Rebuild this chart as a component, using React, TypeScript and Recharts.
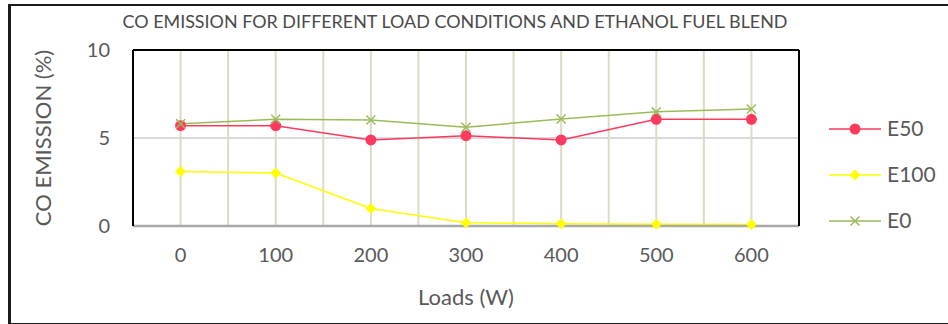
import React from 'react';
import {
  LineChart,
  Line,
  XAxis,
  YAxis,
  CartesianGrid,
} from 'recharts';

// Load steps (W) and CO emission (%) per fuel blend
const loads = ['0', '100', '200', '300', '400', '500', '600'];
const e50 = [5.7, 5.7, 4.89, 5.13, 4.89, 6.06, 6.06];
const e100 = [3.09, 3.01, 1.0, 0.19, 0.13, 0.1, 0.09];
const e0 = [5.81, 6.06, 6.02, 5.61, 6.08, 6.49, 6.65];
const yTicks = [0, 5, 10];

const data = loads.map((load, i) => ({
  load,
  E50: e50[i],
  E100: e100[i],
  E0: e0[i],
}));

const FONT = 'Lato, "Open Sans", sans-serif';
const TEXT = '#595959';
const RED = '#FF3A5E';
const YELLOW = '#FFFF00';
const GREEN = '#9BBB59';

const CircleDot = (props: any) => {
  const { cx, cy, index } = props;
  if (cx == null || cy == null) return <g key={`c${index}`} />;
  return <circle key={`c${index}`} cx={cx} cy={cy} r={5.5} fill={RED} />;
};

const DiamondDot = (props: any) => {
  const { cx, cy, index } = props;
  if (cx == null || cy == null) return <g key={`d${index}`} />;
  const s = 5.5;
  return (
    <path
      key={`d${index}`}
      d={`M${cx},${cy - s} L${cx + s},${cy} L${cx},${cy + s} L${cx - s},${cy} Z`}
      fill={YELLOW}
    />
  );
};

const CrossDot = (props: any) => {
  const { cx, cy, index } = props;
  if (cx == null || cy == null) return <g key={`x${index}`} />;
  const s = 4.5;
  return (
    <path
      key={`x${index}`}
      d={`M${cx - s},${cy - s} L${cx + s},${cy + s} M${cx - s},${cy + s} L${cx + s},${cy - s}`}
      stroke={GREEN}
      strokeWidth={1.5}
      fill="none"
    />
  );
};

// Grid lines at every category centre and every category boundary
const halfStepLines = ({ offset }: any) => {
  const n = loads.length * 2;
  const out: number[] = [];
  for (let i = 1; i < n; i++) out.push(offset.left + (i * offset.width) / n);
  return out;
};

const legendItems = [
  { name: 'E50', color: RED, Marker: CircleDot },
  { name: 'E100', color: YELLOW, Marker: DiamondDot },
  { name: 'E0', color: GREEN, Marker: CrossDot },
];

const Legend = () => (
  <svg
    width={120}
    height={150}
    style={{ position: 'absolute', left: 826, top: 105 }}
  >
    {legendItems.map((it, i) => {
      const y = 24 + i * 46;
      return (
        <g key={it.name}>
          <line x1={3} x2={55} y1={y} y2={y} stroke={it.color} strokeWidth={1.5} />
          <it.Marker cx={29} cy={y} index={i} />
          <text
            x={61}
            y={y}
            dy="0.35em"
            fontSize={21}
            fontFamily={FONT}
            fill={TEXT}
          >
            {it.name}
          </text>
        </g>
      );
    })}
  </svg>
);

export default function App() {
  return (
    <div style={{ position: 'absolute', left: 0, top: 0, width: 948, height: 324, background: '#fff', overflow: 'hidden' }}>
      <div
        style={{
          position: 'absolute',
          left: 8,
          top: 4,
          width: 980,
          height: 320,
          boxSizing: 'border-box',
          borderLeft: '3px solid #1b1b1b',
          borderTop: '2px solid #1b1b1b',
          borderBottom: '1.5px solid #1b1b1b',
        }}
      />
      <svg width={948} height={40} style={{ position: 'absolute', left: 0, top: 0 }}>
        <text
          x={455}
          y={22}
          dy="0.35em"
          textAnchor="middle"
          fontSize={17}
          fontFamily={FONT}
          fill="#4a4a4a"
          textLength={665}
          lengthAdjust="spacingAndGlyphs"
        >
          CO EMISSION FOR DIFFERENT LOAD CONDITIONS AND ETHANOL FUEL BLEND
        </text>
      </svg>
      <div style={{ position: 'absolute', left: 0, top: 0 }}>
        <LineChart
          width={948}
          height={324}
          data={data}
          margin={{ top: 49, right: 148, bottom: 39, left: 0 }}
        >
          <CartesianGrid
            horizontal={false}
            vertical
            stroke="#DDD9C3"
            strokeWidth={2}
            verticalCoordinatesGenerator={halfStepLines}
          />
          <CartesianGrid
            vertical={false}
            horizontal
            stroke="#D9D9D9"
            strokeWidth={2}
          />
          {/* top edge of the plot frame */}
          <XAxis
            xAxisId="frameTop"
            dataKey="load"
            scale="band"
            orientation="top"
            height={1}
            tick={false}
            tickLine={false}
            axisLine={{ stroke: '#000', strokeWidth: 2 }}
          />
          <XAxis
            dataKey="load"
            scale="band"
            height={59}
            tickLine={false}
            axisLine={{ stroke: '#A9A9A9', strokeWidth: 2.5 }}
            tick={{ fill: TEXT, fontSize: 20, fontFamily: FONT }}
            tickMargin={16}
            label={{
              content: ({ viewBox }: any) => (
                <text
                  x={viewBox.x + viewBox.width / 2}
                  y={viewBox.y + 71}
                  dy="0.35em"
                  textAnchor="middle"
                  fontSize={22}
                  fontFamily={FONT}
                  fill={TEXT}
                >
                  Loads (W)
                </text>
              ),
            }}
          />
          <YAxis
            domain={[0, 10]}
            ticks={yTicks}
            width={133}
            tickLine={false}
            axisLine={{ stroke: '#000', strokeWidth: 2 }}
            tick={{ fill: TEXT, fontSize: 20, fontFamily: FONT }}
            tickMargin={17}
            label={{
              content: ({ viewBox }: any) => {
                const x = 43;
                const y = viewBox.y + viewBox.height / 2;
                return (
                  <text
                    x={x}
                    y={y}
                    dy="0.35em"
                    textAnchor="middle"
                    transform={`rotate(-90 ${x} ${y})`}
                    fontSize={22}
                    fontFamily={FONT}
                    fill={TEXT}
                  >
                    CO EMISSION (%)
                  </text>
                );
              },
            }}
          />
          {/* right edge of the plot frame */}
          <YAxis
            yAxisId="frameRight"
            orientation="right"
            domain={[0, 10]}
            width={1}
            tick={false}
            tickLine={false}
            axisLine={{ stroke: '#000', strokeWidth: 2 }}
          />
          <Line
            dataKey="E50"
            stroke={RED}
            strokeWidth={1.5}
            dot={CircleDot}
            activeDot={false}
            isAnimationActive={false}
          />
          <Line
            dataKey="E100"
            stroke={YELLOW}
            strokeWidth={1.5}
            dot={DiamondDot}
            activeDot={false}
            isAnimationActive={false}
          />
          <Line
            dataKey="E0"
            stroke={GREEN}
            strokeWidth={1.5}
            dot={CrossDot}
            activeDot={false}
            isAnimationActive={false}
          />
        </LineChart>
      </div>
      <Legend />
    </div>
  );
}
